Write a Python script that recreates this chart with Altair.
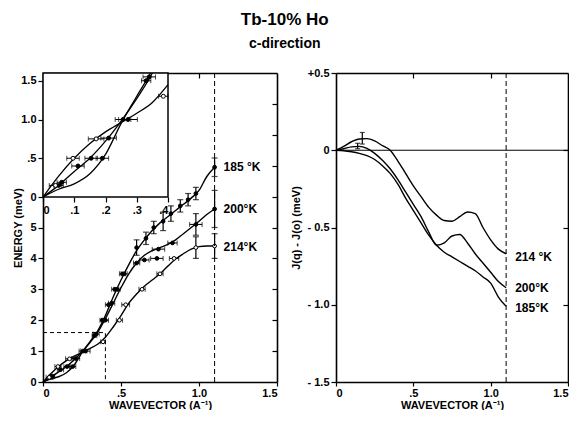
import altair as alt
import pandas as pd

FONT = "Liberation Sans"

temps = ["185", "200", "214"]
label_left = ["185 °K", "200°K", "214°K"]
label_right = ["185°K", "200°K", "214 °K"]

q_grid = [0, 0.05, 0.1, 0.15, 0.2, 0.25, 0.3, 0.35, 0.4, 0.45, 0.5, 0.55,
          0.6, 0.65, 0.7, 0.75, 0.8, 0.85, 0.9, 0.95, 1.0, 1.05, 1.1]

# Energy dispersion E(q), meV
E_185 = [0, 0.1, 0.17, 0.3, 0.55, 0.95, 1.3, 1.65, 2.15, 2.75, 3.3, 3.8,
         4.25, 4.6, 4.9, 5.15, 5.35, 5.55, 5.75, 5.95, 6.2, 6.65, 6.95]
E_200 = [0, 0.15, 0.33, 0.5, 0.72, 0.98, 1.27, 1.6, 2.05, 2.55, 3.05, 3.5,
         3.85, 4.1, 4.25, 4.35, 4.45, 4.6, 4.8, 5.0, 5.2, 5.42, 5.6]
E_214 = [0, 0.27, 0.5, 0.69, 0.84, 0.96, 1.08, 1.22, 1.45, 1.78, 2.15, 2.55,
         2.85, 3.1, 3.3, 3.5, 3.75, 3.98, 4.15, 4.3, 4.38, 4.4, 4.4]

# J(q) - J(0), meV
J_185 = [0, -0.003, -0.01, -0.02, -0.035, -0.06, -0.1, -0.15, -0.22, -0.31, -0.39, -0.47,
         -0.55, -0.615, -0.66, -0.69, -0.72, -0.75, -0.78, -0.82, -0.86, -0.95, -1.01]
J_200 = [0, 0.01, 0.022, 0.025, 0.012, -0.02, -0.065, -0.12, -0.19, -0.27, -0.35, -0.43,
         -0.53, -0.615, -0.6, -0.555, -0.545, -0.6, -0.67, -0.73, -0.79, -0.85, -0.89]
J_214 = [0, 0.025, 0.055, 0.073, 0.075, 0.06, 0.03, 0.0, -0.07, -0.15, -0.23, -0.3,
         -0.37, -0.42, -0.455, -0.46, -0.43, -0.40, -0.41, -0.5, -0.58, -0.64, -0.67]

# measured points: q, E, q-error, E-error
pts_185_q = [0.05, 0.19, 0.256, 0.33, 0.38, 0.42, 0.46, 0.52, 0.60, 0.66, 0.71, 0.77, 0.82, 0.88, 0.93, 0.98, 1.1]
pts_185_E = [0.15, 0.5, 1.0, 1.5, 2.0, 2.5, 3.0, 3.5, 4.35, 4.65, 5.0, 5.2, 5.45, 5.7, 5.9, 6.1, 6.95]
pts_185_dq = [0.015, 0.02, 0.025, 0.015, 0.015, 0.02, 0.02, 0.02, 0, 0, 0, 0, 0, 0, 0, 0, 0]
pts_185_dE = [0, 0, 0, 0, 0, 0, 0, 0, 0.25, 0.2, 0.2, 0.3, 0.25, 0.2, 0.2, 0.2, 0.3]

pts_200_q = [0.06, 0.112, 0.154, 0.21, 0.272, 0.34, 0.40, 0.44, 0.475, 0.51, 0.60, 0.65, 0.73, 0.74, 0.83, 0.98, 1.1]
pts_200_E = [0.19, 0.40, 0.5, 0.76, 1.0, 1.55, 2.0, 2.55, 3.0, 3.5, 3.85, 3.95, 4.0, 4.3, 4.5, 5.1, 5.6]
pts_200_dq = [0.015, 0.02, 0.02, 0.025, 0.03, 0.02, 0.02, 0.02, 0.02, 0.02, 0.02, 0.03, 0.04, 0.04, 0.03, 0.04, 0]
pts_200_dE = [0, 0, 0, 0, 0, 0, 0, 0, 0, 0, 0, 0, 0, 0, 0, 0.35, 0.6]

pts_214_q = [0.04, 0.096, 0.17, 0.385, 0.49, 0.53, 0.635, 0.75, 0.84, 0.98, 1.1]
pts_214_E = [0.15, 0.5, 0.75, 1.3, 2.0, 2.5, 3.0, 3.5, 4.0, 4.35, 4.4]
pts_214_dq = [0.02, 0.02, 0.025, 0.015, 0.02, 0.025, 0.02, 0.02, 0.03, 0, 0]
pts_214_dE = [0, 0, 0, 0, 0, 0, 0, 0, 0, 0.35, 0.4]

# J error bars (right panel)
jerr_q = [0.14, 0.17]
jerr_lo = [0.01, 0.04]
jerr_hi = [0.045, 0.115]

label_E = [6.95, 5.6, 4.38]
label_J = [-1.02, -0.89, -0.69]

zone_q = [0, 0.4, 0.4]
zone_E = [1.6, 1.6, 0]

# ---------------- data frames ----------------
curves = pd.DataFrame({
    "q": q_grid * 3,
    "E": E_185 + E_200 + E_214,
    "J": J_185 + J_200 + J_214,
    "T": [t for t in temps for _ in q_grid],
})

def pts_frame(t, q, E, dq, dE):
    d = pd.DataFrame({"q": q, "E": E, "dq": dq, "dE": dE})
    d["T"] = t
    return d

pts = pd.concat([
    pts_frame("185", pts_185_q, pts_185_E, pts_185_dq, pts_185_dE),
    pts_frame("200", pts_200_q, pts_200_E, pts_200_dq, pts_200_dE),
    pts_frame("214", pts_214_q, pts_214_E, pts_214_dq, pts_214_dE),
], ignore_index=True)
pts["ql"] = pts["q"] - pts["dq"]
pts["qh"] = pts["q"] + pts["dq"]
pts["El"] = pts["E"] - pts["dE"]
pts["Eh"] = pts["E"] + pts["dE"]
hbars = pts[pts["dq"] > 0]
vbars = pts[pts["dE"] > 0]

# ---------------- sizes ----------------
W, H = 234, 309
W_R = 232
IN_W, IN_H = 125, 124

INK = "black"
ax_common = dict(grid=False, tickColor=INK, tickWidth=1.2,
                 labelFont=FONT, labelFontSize=11, labelFontWeight="bold", labelColor=INK,
                 titleFont=FONT, titleFontSize=11, titleFontWeight="bold", titleColor=INK,
                 minExtent=0)
dom_on = dict(domain=True, domainColor=INK, domainWidth=1.6)
xlab = "datum.value == 0 ? '0' : datum.value == 0.5 ? '.5' : format(datum.value, '.1f')"

x_main_scale = alt.Scale(domain=[0, 1.5], nice=False, zero=False)
y_main_scale = alt.Scale(domain=[0, 10], nice=False, zero=False)

x_main = alt.X("q:Q", scale=x_main_scale,
               axis=alt.Axis(values=[0, 0.5, 1.0, 1.5], tickSize=4, labelExpr=xlab,
                             title="WAVEVECTOR (A⁻¹)", titlePadding=1, labelPadding=1, **dom_on, **ax_common))
y_main = alt.Y("E:Q", scale=y_main_scale,
               axis=alt.Axis(values=[0, 1, 2, 3, 4, 5], title="ENERGY (meV)", titlePadding=6, tickSize=5,
                             labelPadding=2, **dom_on, **ax_common))

fill_scale = alt.Scale(domain=temps, range=["black", "black", "white"])

main_lines = alt.Chart(curves).mark_line(color=INK, strokeWidth=1.4, interpolate="monotone").encode(
    x=x_main, y=y_main, detail="T:N")
main_h = alt.Chart(hbars).mark_rule(color=INK, strokeWidth=1).encode(x="ql:Q", x2="qh:Q", y="E:Q")
main_hc1 = alt.Chart(hbars).mark_tick(color=INK, orient="vertical", size=5, thickness=1).encode(x="ql:Q", y="E:Q")
main_hc2 = alt.Chart(hbars).mark_tick(color=INK, orient="vertical", size=5, thickness=1).encode(x="qh:Q", y="E:Q")
main_v = alt.Chart(vbars).mark_rule(color=INK, strokeWidth=1.2).encode(x="q:Q", y="El:Q", y2="Eh:Q")
main_vc1 = alt.Chart(vbars).mark_tick(color=INK, orient="horizontal", size=6, thickness=1.2).encode(x="q:Q", y="El:Q")
main_vc2 = alt.Chart(vbars).mark_tick(color=INK, orient="horizontal", size=6, thickness=1.2).encode(x="q:Q", y="Eh:Q")
main_pts = alt.Chart(pts).mark_point(shape="circle", size=14, stroke=INK, strokeWidth=1, opacity=1).encode(
    x="q:Q", y="E:Q", fill=alt.Fill("T:N", scale=fill_scale, legend=None))
main_vline = alt.Chart(pd.DataFrame({"q": [1.1]})).mark_rule(color=INK, strokeWidth=1, strokeDash=[5, 3]).encode(x="q:Q")
zone = alt.Chart(pd.DataFrame({"q": zone_q, "E": zone_E, "o": [0, 1, 2]})).mark_line(
    color=INK, strokeWidth=1, strokeDash=[4, 3]).encode(x="q:Q", y="E:Q", order="o:Q")
main_labels = alt.Chart(pd.DataFrame({"q": [1.1] * 3, "E": label_E, "t": label_left})).mark_text(
    align="left", baseline="middle", dx=9, font=FONT, fontSize=12, fontWeight="bold", color=INK).encode(
    x="q:Q", y="E:Q", text="t:N")

main_group = alt.layer(main_lines, main_h, main_hc1, main_hc2, main_v, main_vc1, main_vc2,
                       main_pts, main_vline, zone, main_labels)

tick_ax = dict(labels=False, domain=False, grid=False, ticks=True, tickSize=5, tickColor=INK,
               tickWidth=1.2, offset=-5, title=None, minExtent=0, maxExtent=0)
frame_ax = dict(labels=False, ticks=False, grid=False, title=None, minExtent=0, maxExtent=0, **dom_on)


def side_axes(xscale, yscale, yfield, xvals, yvals):
    ticks = alt.Chart(pd.DataFrame({"q": [0.5], yfield: [0]})).mark_point(opacity=0).encode(
        x=alt.X("q:Q", scale=xscale, axis=alt.Axis(orient="top", values=xvals, **tick_ax)),
        y=alt.Y(f"{yfield}:Q", scale=yscale, axis=alt.Axis(orient="right", values=yvals, **tick_ax)))
    edges = alt.Chart(pd.DataFrame({"q": [0.5], yfield: [0]})).mark_point(opacity=0).encode(
        x=alt.X("q:Q", scale=xscale, axis=alt.Axis(orient="top", **frame_ax)),
        y=alt.Y(f"{yfield}:Q", scale=yscale, axis=alt.Axis(orient="right", **frame_ax)))
    return ticks, edges


mt, me = side_axes(x_main_scale, y_main_scale, "E", [0.5, 1.0], [1, 2, 3, 4, 5, 6, 7, 8, 9])
main_all = alt.layer(main_group, mt, me).resolve_axis(x="independent", y="independent")

# ---------------- inset ----------------
x_in_scale = alt.Scale(domain=[0, 0.4], range=[0, IN_W], nice=False, zero=False)
y_in_scale = alt.Scale(domain=[0, 1.6], range=[IN_H, 0], nice=False, zero=False)
x_in = alt.X("q:Q", scale=x_in_scale,
             axis=alt.Axis(orient="bottom", offset=IN_H - H, values=[0, 0.1, 0.2, 0.3, 0.4], tickSize=5,
                           labelExpr="datum.value == 0 ? '0' : '.' + format(datum.value * 10, 'd')",
                           title=None, labelPadding=2, domain=False, **ax_common))
y_in = alt.Y("E:Q", scale=y_in_scale,
             axis=alt.Axis(orient="left", values=[0, 0.5, 1.0, 1.5], tickSize=5, labelExpr=xlab,
                           title=None, labelPadding=2, domain=False, **ax_common))

in_curves = curves[curves["q"] <= 0.4]
in_pts = pts[(pts["q"] <= 0.4) & (pts["E"] <= 1.6)]

in_frame = alt.Chart(pd.DataFrame({"q": [0], "q2": [0.4], "E": [0], "E2": [1.6]})).mark_rect(
    fill="white", stroke=INK, strokeWidth=1.5).encode(x=x_in, x2="q2:Q", y=y_in, y2="E2:Q")
in_lines = alt.Chart(in_curves).mark_line(color=INK, strokeWidth=1.3, interpolate="monotone", clip=True).encode(
    x="q:Q", y="E:Q", detail="T:N")
in_h = alt.Chart(in_pts).mark_rule(color=INK, strokeWidth=1).encode(x="ql:Q", x2="qh:Q", y="E:Q")
in_hc1 = alt.Chart(in_pts).mark_tick(color=INK, orient="vertical", size=5, thickness=1).encode(x="ql:Q", y="E:Q")
in_hc2 = alt.Chart(in_pts).mark_tick(color=INK, orient="vertical", size=5, thickness=1).encode(x="qh:Q", y="E:Q")
in_points = alt.Chart(in_pts).mark_point(shape="circle", size=16, stroke=INK, strokeWidth=1, opacity=1).encode(
    x="q:Q", y="E:Q", fill=alt.Fill("T:N", scale=fill_scale, legend=None))

inset = alt.layer(in_frame, in_lines, in_h, in_hc1, in_hc2, in_points)

left = alt.layer(main_all, inset).resolve_scale(x="independent", y="independent").properties(width=W, height=H)

# ---------------- right panel ----------------
x_r_scale = alt.Scale(domain=[0, 1.5], nice=False, zero=False)
y_r_scale = alt.Scale(domain=[-1.5, 0.5], nice=False, zero=False)
x_r = alt.X("q:Q", scale=x_r_scale,
            axis=alt.Axis(values=[0, 0.5, 1.0, 1.5], tickSize=4, labelExpr=xlab,
                          title="WAVEVECTOR (A⁻¹)", titlePadding=1, labelPadding=1, **dom_on, **ax_common))
y_r = alt.Y("J:Q", scale=y_r_scale,
            axis=alt.Axis(values=[-1.5, -1.0, -0.5, 0, 0.5], tickSize=5,
                          labelExpr="datum.value > 0 ? '+0.5' : datum.value == 0 ? '0' : '- ' + format(-datum.value, '.1f')",
                          title="J(q) - J(o)  (meV)", titlePadding=5, labelPadding=2, **dom_on, **ax_common))

r_lines = alt.Chart(curves).mark_line(color=INK, strokeWidth=1.4, interpolate="monotone").encode(
    x=x_r, y=y_r, detail="T:N")
r_zero = alt.Chart(pd.DataFrame({"J": [0]})).mark_rule(color=INK, strokeWidth=1.2).encode(y="J:Q")
r_vline = alt.Chart(pd.DataFrame({"q": [1.1]})).mark_rule(color=INK, strokeWidth=1, strokeDash=[5, 3]).encode(x="q:Q")
jerr = pd.DataFrame({"q": jerr_q, "lo": jerr_lo, "hi": jerr_hi})
r_err = alt.Chart(jerr).mark_rule(color=INK, strokeWidth=1.2).encode(x="q:Q", y="lo:Q", y2="hi:Q")
r_c1 = alt.Chart(jerr).mark_tick(color=INK, orient="horizontal", size=5, thickness=1.2).encode(x="q:Q", y="lo:Q")
r_c2 = alt.Chart(jerr).mark_tick(color=INK, orient="horizontal", size=5, thickness=1.2).encode(x="q:Q", y="hi:Q")
r_labels = alt.Chart(pd.DataFrame({"q": [1.1] * 3, "J": label_J, "t": label_right})).mark_text(
    align="left", baseline="middle", dx=9, font=FONT, fontSize=12, fontWeight="bold", color=INK).encode(
    x="q:Q", y="J:Q", text="t:N")

r_group = alt.layer(r_lines, r_zero, r_vline, r_err, r_c1, r_c2, r_labels)
rt, re_ = side_axes(x_r_scale, y_r_scale, "J", [0.5, 1.0], [-1.0, -0.5, 0])
right = alt.layer(r_group, rt, re_).resolve_axis(x="independent", y="independent").properties(width=W_R, height=H)

chart = alt.hconcat(left, right, spacing=12).properties(
    title=alt.TitleParams(text="Tb-10% Ho", subtitle="c-direction", anchor="middle",
                          font=FONT, fontSize=17, fontWeight="bold", color=INK,
                          subtitleFont=FONT, subtitleFontSize=14, subtitleFontWeight="bold",
                          subtitleColor=INK, subtitlePadding=8, offset=15, dx=-6),
    padding={"left": 4, "right": 0, "top": 3, "bottom": 0},
).configure_view(stroke=None)

chart.save("out.html", embed_options={"renderer": "svg", "actions": False})
